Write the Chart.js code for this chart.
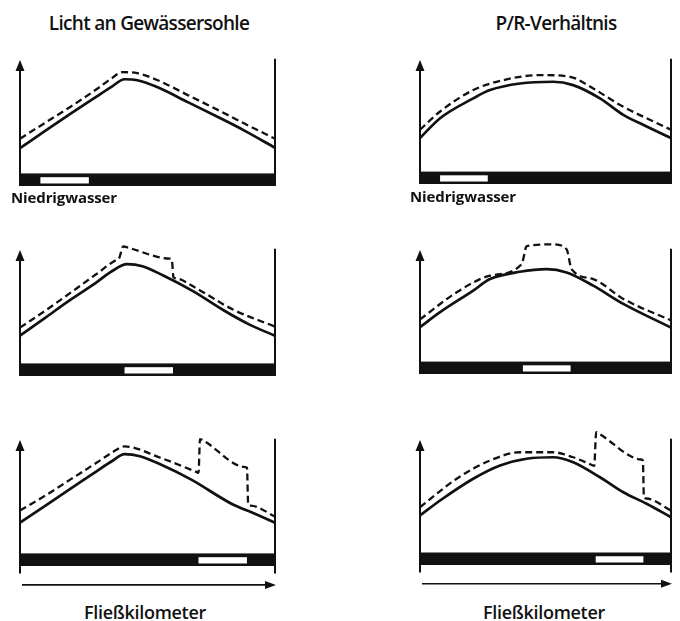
<!DOCTYPE html>
<html lang="de">

<head>
    <meta charset="UTF-8">
    <title>Licht an Gewässersohle / P/R-Verhältnis</title>
    <script src="https://cdn.jsdelivr.net/npm/chart.js"></script>
    <style>
        body {
            margin: 0;
            width: 680px;
            height: 621px;
            position: relative;
            overflow: hidden;
            background: #fff;
            color: #111;
            font-family: 'Open Sans', sans-serif;
        }

        canvas {
            position: absolute;
        }

        .txt {
            position: absolute;
            white-space: nowrap;
            line-height: 1;
            transform: translate(-50%, -50%);
        }

        .title {
            font-size: 19px;
            font-weight: 600;
            letter-spacing: -0.7px;
        }

        .low {
            font-size: 15px;
            font-weight: 700;
            letter-spacing: -0.1px;
        }

        .km {
            font-size: 18px;
            font-weight: 600;
            letter-spacing: -0.3px;
        }
    </style>
</head>

<body>
    <div class="txt title" style="left:149px;top:23px" id="title0"></div>
    <div class="txt title" style="left:556px;top:23px" id="title1"></div>

    <canvas id="p1" width="300" height="170" style="left:0;top:30px"></canvas>
    <canvas id="p2" width="280" height="170" style="left:400px;top:30px"></canvas>
    <canvas id="p3" width="300" height="170" style="left:0;top:220px"></canvas>
    <canvas id="p4" width="280" height="170" style="left:400px;top:220px"></canvas>
    <canvas id="p5" width="300" height="190" style="left:0;top:410px"></canvas>
    <canvas id="p6" width="280" height="190" style="left:400px;top:410px"></canvas>

    <div class="txt low" style="left:64px;top:197px" id="low0"></div>
    <div class="txt low" style="left:463px;top:196px" id="low1"></div>
    <div class="txt km" style="left:145px;top:612px" id="km0"></div>
    <div class="txt km" style="left:544px;top:612px" id="km1"></div>

    <script>
        const titles = ['Licht an Gewässersohle', 'P/R-Verhältnis'];
        const lowWaterLabel = 'Niedrigwasser';
        const xAxisLabel = 'Fließkilometer';

        // Niedrigwasser-Abschnitt je Zeile (Fließkilometer 0-100)
        const lowWater = [[8, 27], [41, 60], [70, 89]];

        // [Fließkilometer, Wert] - durchgezogen = Normalzustand, gestrichelt = Niedrigwasser
        const licht1Solid = [[0, 30], [10, 44], [20, 57.6], [30, 71], [36, 79], [41, 84.8], [46, 84], [54, 78.4], [66, 66.4], [78, 54.4], [88, 44], [100, 30.4]];
        const licht1Dashed = [[0, 37.6], [10, 50.4], [20, 63.2], [30, 76.8], [36, 85.6], [40, 90.4], [46, 89.6], [54, 84], [66, 72], [78, 60], [88, 49.6], [100, 37.6]];

        const licht2Solid = [[0, 32], [10, 46.4], [20, 60.8], [30, 74.4], [36, 83.2], [42, 88.8], [48, 87.2], [56, 80], [68, 67.2], [80, 52], [90, 40.8], [100, 32]];
        const licht2Dashed = [[0, 38.4], [10, 52], [20, 66.4], [30, 81], [38, 92.4], [38.8, 93.2], [40.5, 103], [41.3, 102.6], [58.7, 93.2], [59.5, 92.8], [60.2, 78.4], [61.5, 77.4], [68, 71], [83.5, 52.8], [100, 39.2]];

        const licht3Solid = [[0, 34.4], [10, 48], [20, 61.6], [30, 75.2], [36, 83.2], [41, 88.8], [47, 87.2], [55, 80.8], [67, 68.8], [83.5, 48.8], [91, 42.4], [100, 34.4]];
        const licht3Dashed = [[0, 44], [10, 56], [20, 69], [30, 82], [36, 90], [41, 95], [55, 86], [69.3, 74.6], [70, 74], [70.6, 100.8], [71.4, 100.2], [88.3, 78.5], [89, 78], [89.5, 48.8], [90.5, 48], [100, 39.4]];

        const pr1Solid = [[0, 37], [8, 53], [21.2, 69], [27.9, 75.7], [39.8, 81], [53, 82.4], [61, 79.7], [71.7, 69], [81, 55.7], [90.3, 46.4], [100, 37]];
        const pr1Dashed = [[0, 43.7], [8, 58.4], [21.2, 75.7], [34.5, 84.3], [47.8, 87.8], [59.8, 86.4], [69, 77], [79.7, 63.7], [100, 43.7]];

        const pr2Solid = [[0, 37.8], [8, 49.8], [21.2, 67.2], [27.9, 76.5], [39.8, 82.4], [50.5, 84.5], [58.4, 81.8], [69, 71.2], [81, 56.5], [100, 37.4]];
        const pr2Dashed = [[0, 44], [14.6, 65.8], [27.9, 79.2], [40.5, 88.5], [42.5, 103], [53, 104.5], [58.4, 100.5], [60.4, 84.5], [69, 76.5], [81, 60.5], [100, 43.2]];

        const pr3Solid = [[0, 39.6], [8, 51.6], [21.2, 69], [31.9, 79.6], [42.5, 85], [53, 86.2], [61, 82.2], [71.7, 70.2], [81, 58.2], [90.3, 49], [100, 38.2]];
        const pr3Dashed = [[0, 46.2], [14.6, 69], [27.9, 83.6], [39.8, 90.2], [53, 90.2], [61, 86.2], [68.3, 80.2], [69.4, 79.3], [70.2, 106.2], [71, 105.4], [88.1, 84.4], [88.8, 83.6], [89.2, 54.2], [90.2, 53.2], [100, 43.6]];

        document.getElementById('title0').textContent = titles[0];
        document.getElementById('title1').textContent = titles[1];
        document.getElementById('low0').textContent = lowWaterLabel;
        document.getElementById('low1').textContent = lowWaterLabel;
        document.getElementById('km0').textContent = xAxisLabel;
        document.getElementById('km1').textContent = xAxisLabel;

        const ink = '#111';

        // Achsen, Balken mit Niedrigwasserabschnitt, Pfeile
        const framePlugin = {
            id: 'frame',
            afterDraw(chart, args, opts) {
                const ctx = chart.ctx;
                const x = chart.scales.x;
                const y = chart.scales.y;
                const x0 = x.getPixelForValue(0);
                const x1 = x.getPixelForValue(100);
                const yb = y.getPixelForValue(0);
                const yTop = y.getPixelForValue(100);
                const yLow = opts.bottomArrow ? y.getPixelForValue(-6) : yb;
                ctx.save();
                ctx.strokeStyle = ink;
                ctx.fillStyle = ink;

                // schwarzer Balken
                ctx.fillRect(x0, y.getPixelForValue(10), x1 - x0, yb - y.getPixelForValue(10));
                ctx.fillStyle = '#fff';
                const [a, b] = opts.low;
                ctx.fillRect(x.getPixelForValue(a), y.getPixelForValue(7), x.getPixelForValue(b) - x.getPixelForValue(a), y.getPixelForValue(2) - y.getPixelForValue(7));
                ctx.fillStyle = ink;

                // y-Achse mit Pfeil
                ctx.lineWidth = 2;
                ctx.beginPath();
                ctx.moveTo(x0, yLow);
                ctx.lineTo(x0, yTop + 8);
                ctx.stroke();
                ctx.beginPath();
                ctx.moveTo(x0, yTop);
                ctx.lineTo(x0 - 4.5, yTop + 11);
                ctx.lineTo(x0 + 4.5, yTop + 11);
                ctx.closePath();
                ctx.fill();

                // rechte Begrenzung
                ctx.beginPath();
                ctx.moveTo(x1, yLow);
                ctx.lineTo(x1, y.getPixelForValue(101));
                ctx.stroke();

                // Fließrichtung
                if (opts.bottomArrow) {
                    const ya = y.getPixelForValue(-15);
                    ctx.lineWidth = 1.6;
                    ctx.beginPath();
                    ctx.moveTo(x0 + 2, ya);
                    ctx.lineTo(x1 - 8, ya);
                    ctx.stroke();
                    ctx.beginPath();
                    ctx.moveTo(x1 + 1, ya);
                    ctx.lineTo(x1 - 10, ya - 4);
                    ctx.lineTo(x1 - 10, ya + 4);
                    ctx.closePath();
                    ctx.fill();
                }
                ctx.restore();
            }
        };

        const toPoints = (arr) => arr.map(([px, py]) => ({ x: px, y: py }));

        const makePanel = (id, solid, dashed, low, padding, bottomArrow) => {
            new Chart(document.getElementById(id), {
                type: 'line',
                data: {
                    datasets: [{
                        data: toPoints(solid),
                        borderColor: ink,
                        borderWidth: 2.7,
                        pointRadius: 0,
                        cubicInterpolationMode: 'monotone',
                        clip: false
                    }, {
                        data: toPoints(dashed),
                        borderColor: ink,
                        borderWidth: 2.3,
                        borderDash: [7, 4],
                        pointRadius: 0,
                        cubicInterpolationMode: 'monotone',
                        clip: false
                    }]
                },
                options: {
                    responsive: false,
                    animation: false,
                    events: [],
                    layout: { padding: padding },
                    scales: {
                        x: { type: 'linear', min: 0, max: 100, display: false },
                        y: { type: 'linear', min: 0, max: 110, display: false }
                    },
                    plugins: {
                        legend: { display: false },
                        tooltip: { enabled: false },
                        frame: { low: low, bottomArrow: bottomArrow }
                    }
                },
                plugins: [framePlugin]
            });
        };

        const padLeft = { left: 20, right: 25 };
        const padRight = { left: 20, right: 9 };

        makePanel('p1', licht1Solid, licht1Dashed, lowWater[0], { ...padLeft, top: 17.5, bottom: 14 }, false);
        makePanel('p2', pr1Solid, pr1Dashed, lowWater[0], { ...padRight, top: 17.5, bottom: 16 }, false);
        makePanel('p3', licht2Solid, licht2Dashed, lowWater[1], { ...padLeft, top: 17.5, bottom: 14 }, false);
        makePanel('p4', pr2Solid, pr2Dashed, lowWater[1], { ...padRight, top: 17.5, bottom: 16 }, false);
        makePanel('p5', licht3Solid, licht3Dashed, lowWater[2], { ...padLeft, top: 17.5, bottom: 34 }, true);
        makePanel('p6', pr3Solid, pr3Dashed, lowWater[2], { ...padRight, top: 17.5, bottom: 35 }, true);
    </script>
</body>

</html>
